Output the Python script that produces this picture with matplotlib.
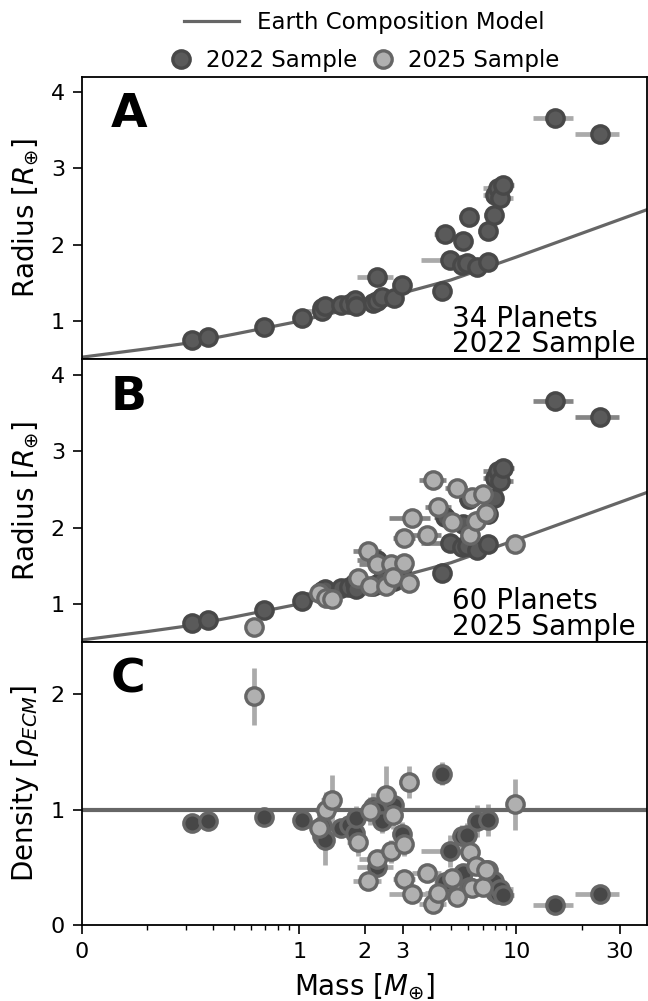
import matplotlib
matplotlib.use('Agg')
import matplotlib.pyplot as plt
from matplotlib.lines import Line2D
from matplotlib.ticker import NullFormatter

# Earth composition model curve
model_mass = [0.1, 0.2, 0.3, 0.5, 1.0, 2.0, 3.0, 5.0, 10.0, 20.0, 40.0]
model_radius = [0.53, 0.64, 0.71, 0.83, 1.00, 1.21, 1.37, 1.54, 1.84, 2.15, 2.46]

# 2022 sample (34 planets)
m22 = [0.321, 0.38, 0.686, 1.03, 1.27, 1.28, 1.32, 1.56, 1.70, 1.81, 1.82, 2.18, 2.28, 2.28, 2.42, 2.74, 2.99,
       4.53, 4.69, 4.95, 5.61, 5.67, 5.9, 6.06, 6.62, 7.38, 7.44, 7.93, 8.0, 8.21, 8.45, 8.72, 15.1, 24.2]
r22 = [0.755, 0.79, 0.92, 1.04, 1.17, 1.13, 1.20, 1.21, 1.22, 1.28, 1.20, 1.24, 1.58, 1.26, 1.32, 1.30, 1.48,
       1.40, 2.14, 1.80, 1.74, 2.05, 1.76, 2.37, 1.71, 2.18, 1.78, 2.39, 2.65, 2.74, 2.61, 2.78, 3.66, 3.45]
d22 = [0.88, 0.90, 0.94, 0.91, 0.77, 0.86, 0.74, 0.84, 0.87, 0.80, 0.93, 1.02, 0.50, 1.00, 0.90, 1.04, 0.79,
       1.31, 0.37, 0.64, 0.77, 0.45, 0.78, 0.33, 0.90, 0.48, 0.91, 0.385, 0.285, 0.265, 0.31, 0.26, 0.17, 0.27]
m22_err = [0.03, 0.03, 0.05, 0.05, 0.1, 0.25, 0.1, 0.12, 0.15, 0.15, 0.15, 0.2, 0.44, 0.2, 0.25, 0.25, 0.3,
           0.4, 0.5, 1.3, 0.5, 0.5, 0.5, 0.6, 0.6, 0.7, 0.7, 0.8, 1.0, 1.2, 1.2, 1.0, 3.2, 5.5]
r22_err = [0.02, 0.02, 0.03, 0.03, 0.04, 0.04, 0.04, 0.04, 0.05, 0.05, 0.05, 0.05, 0.06, 0.05, 0.05, 0.05, 0.05,
           0.05, 0.06, 0.06, 0.06, 0.06, 0.06, 0.07, 0.06, 0.07, 0.06, 0.07, 0.07, 0.08, 0.08, 0.08, 0.10, 0.08]
d22_err = [0.03, 0.03, 0.05, 0.05, 0.10, 0.10, 0.22, 0.08, 0.10, 0.10, 0.10, 0.12, 0.08, 0.12, 0.10, 0.12, 0.10,
           0.10, 0.06, 0.14, 0.10, 0.06, 0.10, 0.05, 0.14, 0.06, 0.14, 0.05, 0.04, 0.04, 0.04, 0.04, 0.03, 0.03]

# 2025 sample (new planets)
m25 = [0.62, 1.24, 1.33, 1.41, 1.86, 2.07, 2.11, 2.28, 2.50, 2.65, 2.72, 3.05, 3.05, 3.19, 3.30, 3.90, 4.15,
       4.38, 5.04, 5.31, 6.13, 6.23, 6.49, 7.00, 7.24, 9.87]
r25 = [0.70, 1.14, 1.08, 1.07, 1.34, 1.69, 1.24, 1.52, 1.24, 1.52, 1.35, 1.54, 1.87, 1.28, 2.12, 1.90, 2.62,
       2.27, 2.07, 2.52, 1.90, 2.40, 2.08, 2.44, 2.19, 1.79]
d25 = [1.98, 0.84, 1.00, 1.08, 0.72, 0.38, 0.99, 0.57, 1.13, 0.64, 0.95, 0.70, 0.40, 1.24, 0.27, 0.45, 0.18,
       0.28, 0.41, 0.245, 0.63, 0.32, 0.51, 0.33, 0.48, 1.045]
m25_err = [0.05, 0.12, 0.15, 0.15, 0.2, 0.3, 0.2, 0.4, 0.25, 0.3, 0.3, 0.3, 0.35, 0.3, 0.7, 0.6, 0.6,
           0.6, 0.5, 0.6, 0.6, 0.6, 0.6, 0.7, 0.8, 0.9]
r25_err = [0.03, 0.04, 0.04, 0.04, 0.05, 0.06, 0.05, 0.06, 0.05, 0.06, 0.05, 0.06, 0.07, 0.05, 0.08, 0.07, 0.09,
           0.08, 0.07, 0.09, 0.07, 0.08, 0.07, 0.08, 0.08, 0.07]
d25_err = [0.25, 0.12, 0.15, 0.22, 0.12, 0.06, 0.12, 0.08, 0.25, 0.10, 0.12, 0.10, 0.07, 0.14, 0.04, 0.08, 0.04,
           0.05, 0.07, 0.04, 0.10, 0.05, 0.08, 0.06, 0.08, 0.22]

xticks = [0.1, 1, 2, 3, 10, 30]
xticklabels = ['0', '1', '2', '3', '10', '30']
xminor = [0.2, 0.3, 0.4, 0.5, 0.6, 0.7, 0.8, 0.9, 4, 5, 6, 7, 8, 9, 20]

dark_face = '#5a5a5a'
dark_edge = '#484848'
light_face = '#b0b0b0'
light_edge = '#666666'
line_col = '#666666'
ms = 12.5
mew = 2.4

fig = plt.figure(figsize=(6.48, 10.01), dpi=100)
left, width, h = 0.1265, 0.872, 0.2825
axA = fig.add_axes([left, 0.0759 + 2 * h, width, h])
axB = fig.add_axes([left, 0.0759 + h, width, h], sharex=axA)
axC = fig.add_axes([left, 0.0759, width, h], sharex=axA)

for ax in (axA, axB, axC):
    ax.set_xscale('log')
    for s in ax.spines.values():
        s.set_linewidth(1.3)
    ax.tick_params(axis='both', which='major', labelsize=16, length=6.3, width=1.2, pad=6)
    ax.tick_params(axis='x', which='minor', length=3.5, width=1.0)

# Panel A
axA.errorbar(m22, r22, xerr=m22_err, yerr=r22_err, fmt='none', ecolor='#aaaaaa', elinewidth=3.4, zorder=1)
axA.plot(model_mass, model_radius, color=line_col, lw=2.3, zorder=2)
axA.plot(m22, r22, 'o', ms=ms, mfc=dark_face, mec=dark_edge, mew=mew, zorder=3)
axA.text(0.051, 0.945, 'A', transform=axA.transAxes, fontsize=34, fontweight='bold', va='top', ha='left')
axA.text(0.979, 0.005, '34 Planets\n2022 Sample', transform=axA.transAxes, fontsize=20,
         ha='right', va='bottom', multialignment='left', linespacing=0.88)

# Panel B
axB.errorbar(m22, r22, xerr=m22_err, yerr=r22_err, fmt='none', ecolor='#858585', elinewidth=3.4, zorder=1)
axB.errorbar(m25, r25, xerr=m25_err, yerr=r25_err, fmt='none', ecolor='#858585', elinewidth=3.4, zorder=1)
axB.plot(model_mass, model_radius, color=line_col, lw=2.3, zorder=2)
axB.plot(m22, r22, 'o', ms=ms, mfc=dark_face, mec=dark_edge, mew=mew, zorder=3)
axB.plot(m25, r25, 'o', ms=ms, mfc=light_face, mec=light_edge, mew=mew, zorder=4)
axB.text(0.051, 0.945, 'B', transform=axB.transAxes, fontsize=34, fontweight='bold', va='top', ha='left')
axB.text(0.979, 0.005, '60 Planets\n2025 Sample', transform=axB.transAxes, fontsize=20,
         ha='right', va='bottom', multialignment='left', linespacing=0.88)

for ax in (axA, axB):
    ax.set_ylim(0.5, 4.2)
    ax.set_yticks([1, 2, 3, 4])
    ax.set_ylabel(r'Radius [$R_{\oplus}$]', fontsize=20, labelpad=7)
    ax.tick_params(axis='x', which='both', bottom=False, labelbottom=False)

# Panel C
axC.errorbar(m22, d22, xerr=m22_err, yerr=d22_err, fmt='none', ecolor='#aaaaaa', elinewidth=3.4, zorder=1)
axC.errorbar(m25, d25, xerr=m25_err, yerr=d25_err, fmt='none', ecolor='#aaaaaa', elinewidth=3.4, zorder=1)
axC.axhline(1.0, color=line_col, lw=3.0, zorder=2)
axC.plot(m22, d22, 'o', ms=ms, mfc='#474747', mec='#666666', mew=mew, zorder=3)
axC.plot(m25, d25, 'o', ms=ms, mfc=light_face, mec=light_edge, mew=mew, zorder=4)
axC.text(0.051, 0.945, 'C', transform=axC.transAxes, fontsize=34, fontweight='bold', va='top', ha='left')
axC.set_ylim(0, 2.45)
axC.set_yticks([0, 1, 2])
axC.set_ylabel(r'Density [$\rho_{ECM}$]', fontsize=20, labelpad=7)
axC.set_xlabel(r'Mass [$M_{\oplus}$]', fontsize=20, labelpad=7)

axC.set_xlim(0.1, 40)
axC.set_xticks(xticks)
axC.set_xticklabels(xticklabels)
axC.set_xticks(xminor, minor=True)
axC.xaxis.set_minor_formatter(NullFormatter())

# Legends above panel A
h_line = [Line2D([], [], color=line_col, lw=2.3)]
h_pts = [Line2D([], [], ls='none', marker='o', ms=12.5, mfc=dark_face, mec=dark_edge, mew=mew),
         Line2D([], [], ls='none', marker='o', ms=12.5, mfc=light_face, mec=light_edge, mew=mew)]
cx = left + width / 2
fig.legend(h_line, ['Earth Composition Model'], loc='center', bbox_to_anchor=(cx, 1 - 23 / 1001),
           frameon=False, fontsize=16.5, handlelength=2.4, borderpad=0, borderaxespad=0)
fig.legend(h_pts, ['2022 Sample', '2025 Sample'], loc='center', bbox_to_anchor=(cx, 1 - 61 / 1001),
           ncol=2, frameon=False, fontsize=16.5, handlelength=1.0, columnspacing=0.6, handletextpad=0.6,
           borderpad=0, borderaxespad=0)

fig.savefig('out.png', dpi=100)
